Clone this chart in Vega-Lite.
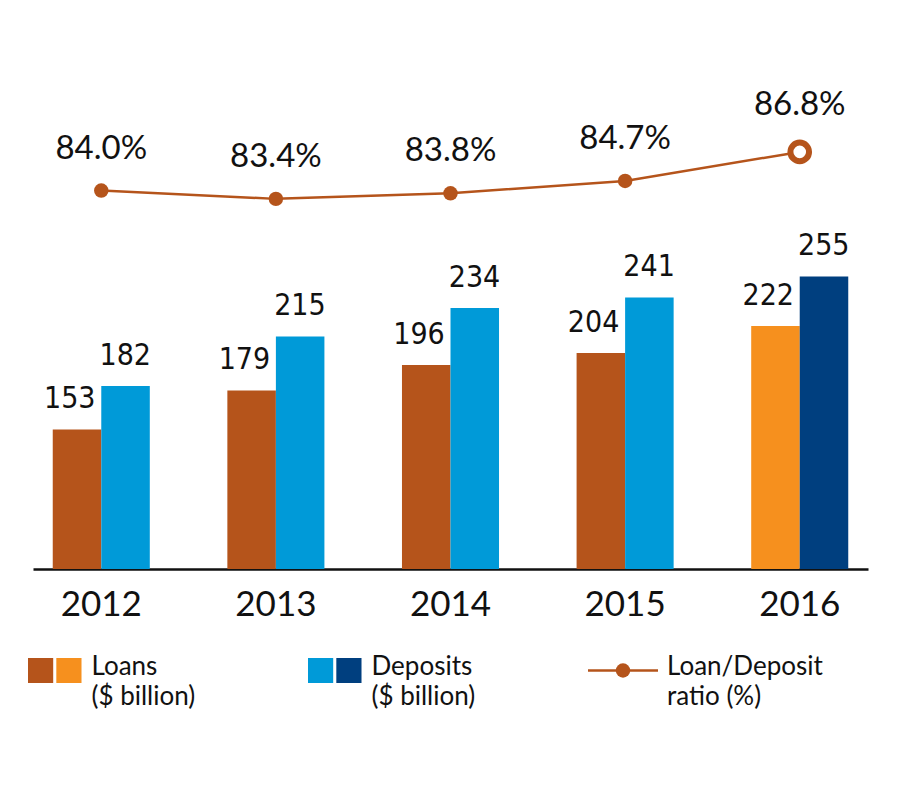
{
  "$schema": "https://vega.github.io/schema/vega-lite/v6.json",
  "autosize": {"type": "pad"},
  "padding": {"left": 28, "top": 0, "right": 10, "bottom": 10},
  "background": "#ffffff",
  "config": {"view": {"stroke": null}, "font": "Lato"},
  "datasets": {
    "bars": [
      {"year": "2012", "kind": "Loans", "series": "Loans", "value": 153},
      {"year": "2012", "kind": "Deposits", "series": "Deposits", "value": 182},
      {"year": "2013", "kind": "Loans", "series": "Loans", "value": 179},
      {"year": "2013", "kind": "Deposits", "series": "Deposits", "value": 215},
      {"year": "2014", "kind": "Loans", "series": "Loans", "value": 196},
      {"year": "2014", "kind": "Deposits", "series": "Deposits", "value": 234},
      {"year": "2015", "kind": "Loans", "series": "Loans", "value": 204},
      {"year": "2015", "kind": "Deposits", "series": "Deposits", "value": 241},
      {"year": "2016", "kind": "Loans", "series": "Loans 2016", "value": 222},
      {"year": "2016", "kind": "Deposits", "series": "Deposits 2016", "value": 255}
    ],
    "ratio": [
      {"year": "2012", "ratio": 0.840, "latest": false},
      {"year": "2013", "ratio": 0.834, "latest": false},
      {"year": "2014", "ratio": 0.838, "latest": false},
      {"year": "2015", "ratio": 0.847, "latest": false},
      {"year": "2016", "ratio": 0.868, "latest": true}
    ],
    "legend": [
      {"item": "Loans", "slot": "a", "series": "Loans", "label": "Loans\n($ billion)"},
      {"item": "Loans", "slot": "b", "series": "Loans 2016", "label": ""},
      {"item": "Deposits", "slot": "a", "series": "Deposits", "label": "Deposits\n($ billion)"},
      {"item": "Deposits", "slot": "b", "series": "Deposits 2016", "label": ""},
      {"item": "Ratio", "slot": "r", "series": "", "label": "Loan/Deposit\nratio (%)"}
    ]
  },
  "resolve": {"scale": {"x": "independent", "y": "independent", "xOffset": "independent"}},
  "spacing": 32,
  "vconcat": [
    {
      "width": 835,
      "height": 569,
      "resolve": {"scale": {"y": "independent"}},
      "layer": [
        {
          "data": {"name": "bars"},
          "encoding": {
            "x": {
              "field": "year", "type": "nominal",
              "scale": {"paddingInner": 0.218, "paddingOuter": 0},
              "axis": {
                "title": null, "labelAngle": 0, "ticks": false, "tickSize": 0,
                "labelFont": "Lato", "labelFontSize": 35, "labelColor": "#111111",
                "labelPadding": 46, "labelBaseline": "alphabetic",
                "domainColor": "#111111", "domainWidth": 2.5, "grid": false
              }
            },
            "y": {"field": "value", "type": "quantitative",
              "scale": {"domain": [60, 439.3], "zero": false, "clamp": true}, "axis": null}
          },
          "layer": [
            {
              "mark": {"type": "bar"},
              "encoding": {
                "xOffset": {"field": "kind", "type": "nominal", "sort": ["Loans", "Deposits"],
                  "scale": {"paddingInner": 0, "paddingOuter": 0.407}},
                "color": {"field": "series", "type": "nominal",
                  "scale": {"domain": ["Loans", "Deposits", "Loans 2016", "Deposits 2016"],
                    "range": ["#b5541b", "#009ad8", "#f6901e", "#003f7f"]},
                  "legend": null}
              }
            },
            {
              "transform": [{"filter": "datum.kind === 'Loans'"}],
              "mark": {"type": "text", "font": "DejaVu Sans Condensed", "fontSize": 30,
                "baseline": "alphabetic", "dy": -21, "dx": -31.5, "color": "#111111"},
              "encoding": {"text": {"field": "value", "type": "quantitative"}}
            },
            {
              "transform": [{"filter": "datum.kind === 'Deposits'"}],
              "mark": {"type": "text", "font": "DejaVu Sans Condensed", "fontSize": 30,
                "baseline": "alphabetic", "dy": -21, "dx": 24, "color": "#111111"},
              "encoding": {"text": {"field": "value", "type": "quantitative"}}
            }
          ]
        },
        {
          "data": {"name": "ratio"},
          "encoding": {
            "x": {"field": "year", "type": "nominal"},
            "y": {"field": "ratio", "type": "quantitative",
              "scale": {"domain": [0.566, 0.978], "zero": false}, "axis": null}
          },
          "layer": [
            {"mark": {"type": "line", "color": "#b5541b", "strokeWidth": 2.5}},
            {
              "transform": [{"filter": "!datum.latest"}],
              "mark": {"type": "point", "shape": "circle", "filled": true, "size": 210,
                "color": "#b5541b", "opacity": 1}
            },
            {
              "transform": [{"filter": "datum.latest"}],
              "mark": {"type": "point", "shape": "circle", "filled": false, "size": 346,
                "fill": "#ffffff", "stroke": "#b5541b", "strokeWidth": 6, "opacity": 1}
            },
            {
              "transform": [{"filter": "!datum.latest"}],
              "mark": {"type": "text", "fontSize": 33, "baseline": "alphabetic", "dy": -32,
                "color": "#111111", "font": "Lato"},
              "encoding": {"text": {"field": "ratio", "type": "quantitative", "format": ".1%"}}
            },
            {
              "transform": [{"filter": "datum.latest"}],
              "mark": {"type": "text", "fontSize": 33, "baseline": "alphabetic", "dy": -37,
                "color": "#111111", "font": "Lato"},
              "encoding": {"text": {"field": "ratio", "type": "quantitative", "format": ".1%"}}
            }
          ]
        }
      ]
    },
    {
      "width": 840,
      "height": 25,
      "data": {"name": "legend"},
      "resolve": {"scale": {"x": "independent"}},
      "layer": [
        {
          "encoding": {
            "x": {"field": "item", "type": "nominal",
              "scale": {"domain": ["Loans", "Deposits", "Ratio"], "range": [-5, 835], "paddingInner": 0, "paddingOuter": 0},
              "axis": null}
          },
          "layer": [
            {
              "transform": [{"filter": "datum.slot === 'a' || datum.slot === 'b'"}],
              "mark": {"type": "bar"},
              "encoding": {
                "xOffset": {"field": "slot", "type": "nominal",
                  "scale": {"domain": ["a", "b", "c", "d", "e", "f", "g", "h", "i", "j"],
                    "paddingInner": 0.11, "paddingOuter": 0}},
                "color": {"field": "series", "type": "nominal", "legend": null,
                  "scale": {"domain": ["Loans", "Deposits", "Loans 2016", "Deposits 2016"],
                    "range": ["#b5541b", "#009ad8", "#f6901e", "#003f7f"]}}
              }
            },
            {
              "transform": [{"filter": "datum.slot === 'a'"}],
              "mark": {"type": "text", "align": "left", "baseline": "alphabetic", "dx": -76.5, "dy": 4.5,
                "fontSize": 26, "lineHeight": 30, "lineBreak": "\n", "color": "#111111", "font": "Lato"},
              "encoding": {"text": {"field": "label"}}
            },
            {
              "transform": [{"filter": "datum.slot === 'r'"}],
              "mark": {"type": "text", "align": "left", "baseline": "alphabetic", "dx": -61, "dy": 4.5,
                "fontSize": 26, "lineHeight": 30, "lineBreak": "\n", "color": "#111111", "font": "Lato"},
              "encoding": {"text": {"field": "label"}}
            }
          ]
        },
        {
          "transform": [{"filter": "datum.slot === 'r'"}],
          "encoding": {
            "x": {"field": "item", "type": "nominal",
              "scale": {"domain": ["Ratio"], "range": [555, 625], "paddingInner": 0, "paddingOuter": 0},
              "axis": null}
          },
          "layer": [
            {
              "mark": {"type": "point", "shape": "M-1,0L1,0", "size": 4900, "filled": false,
                "stroke": "#b5541b", "strokeWidth": 2.5, "opacity": 1}
            },
            {
              "mark": {"type": "point", "shape": "circle", "size": 210, "filled": true,
                "color": "#b5541b", "opacity": 1}
            }
          ]
        }
      ]
    }
  ]
}
